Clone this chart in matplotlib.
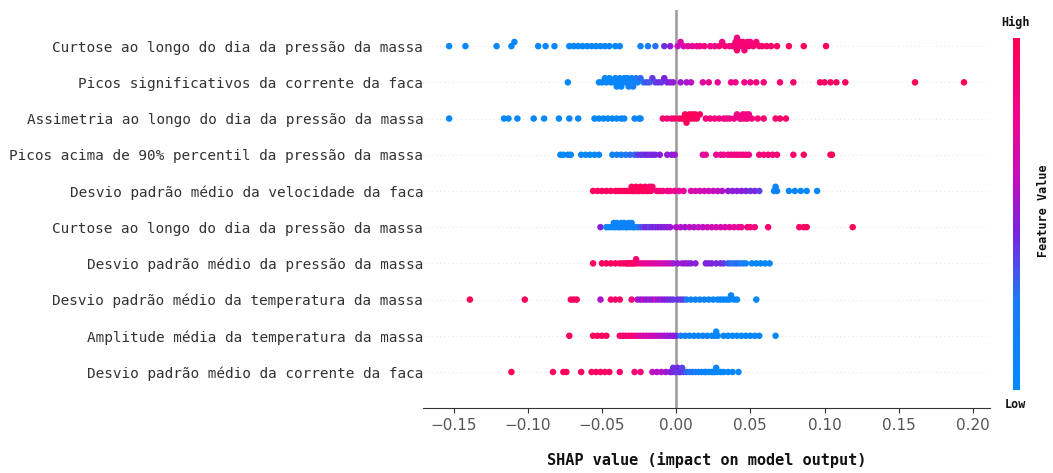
import matplotlib
matplotlib.use("Agg")
import matplotlib.pyplot as plt
import numpy as np
from matplotlib.colors import LinearSegmentedColormap

# feature names, top to bottom
features = [
    "Curtose ao longo do dia da pressão da massa",
    "Picos significativos da corrente da faca",
    "Assimetria ao longo do dia da pressão da massa",
    "Picos acima de 90% percentil da pressão da massa",
    "Desvio padrão médio da velocidade da faca",
    "Curtose ao longo do dia da pressão da massa",
    "Desvio padrão médio da pressão da massa",
    "Desvio padrão médio da temperatura da massa",
    "Amplitude média da temperatura da massa",
    "Desvio padrão médio da corrente da faca",
]

# (shap value, normalised feature value)
row1 = [(-0.153, .05), (-0.142, .05), (-0.121, .06), (-0.111, .05), (-0.109, .07), (-0.093, .05),
        (-0.088, .06), (-0.082, .05), (-0.072, .05), (-0.069, .07), (-0.066, .05), (-0.063, .06),
        (-0.060, .05), (-0.057, .08), (-0.054, .05), (-0.051, .06), (-0.048, .05), (-0.045, .07),
        (-0.041, .06), (-0.038, .08), (-0.024, .15), (-0.019, .20), (-0.014, .28), (-0.008, .42),
        (-0.004, .48), (0.001, .62), (0.003, .70), (0.005, .66), (0.008, .75), (0.011, .72),
        (0.014, .80), (0.016, .78), (0.019, .85), (0.023, .82), (0.026, .80), (0.029, .86),
        (0.031, .83), (0.033, .88), (0.036, .85), (0.038, .80), (0.039, .87), (0.040, .84),
        (0.041, .90), (0.041, .82), (0.042, .86), (0.043, .88), (0.044, .83), (0.045, .90),
        (0.046, .85), (0.047, .88), (0.048, .86), (0.049, .90), (0.050, .84), (0.052, .88),
        (0.054, .86), (0.056, .90), (0.058, .88), (0.061, .92), (0.064, .90), (0.068, .93),
        (0.076, .95), (0.086, .96), (0.101, .98)]

row2 = [(-0.073, .06), (-0.052, .05), (-0.050, .06), (-0.048, .05), (-0.047, .08), (-0.045, .05),
        (-0.044, .07), (-0.042, .05), (-0.041, .10), (-0.040, .06), (-0.039, .05), (-0.038, .12),
        (-0.037, .06), (-0.036, .08), (-0.035, .05), (-0.034, .14), (-0.033, .07), (-0.032, .10),
        (-0.031, .18), (-0.030, .08), (-0.029, .22), (-0.028, .12), (-0.027, .25), (-0.026, .18),
        (-0.024, .30), (-0.022, .26), (-0.020, .35), (-0.018, .32), (-0.016, .40), (-0.014, .38),
        (-0.012, .42), (-0.010, .40), (-0.008, .45), (-0.006, .44), (-0.004, .48), (-0.002, .50),
        (0.003, .52), (0.007, .55), (0.010, .58), (0.018, .72), (0.022, .75), (0.028, .74),
        (0.037, .80), (0.040, .78), (0.046, .82), (0.050, .80), (0.054, .84), (0.059, .85),
        (0.070, .88), (0.079, .90), (0.097, .92), (0.100, .95), (0.104, .93), (0.108, .96),
        (0.114, .95), (0.161, .98), (0.194, .99)]

row3 = [(-0.153, .05), (-0.116, .05), (-0.113, .06), (-0.107, .05), (-0.096, .06), (-0.089, .05),
        (-0.079, .05), (-0.072, .07), (-0.066, .05), (-0.055, .06), (-0.052, .05), (-0.049, .07),
        (-0.046, .05), (-0.043, .08), (-0.040, .06), (-0.037, .10), (-0.035, .07), (-0.028, .12),
        (-0.025, .10), (-0.024, .14), (-0.009, .88), (-0.006, .90), (-0.003, .86), (-0.001, .92),
        (0.002, .95), (0.004, .97), (0.005, .94), (0.006, .98), (0.007, .96), (0.008, .99),
        (0.009, .95), (0.010, .97), (0.011, .98), (0.012, .94), (0.013, .96), (0.014, .93),
        (0.016, .95), (0.020, .85), (0.023, .88), (0.026, .84), (0.029, .86), (0.032, .82),
        (0.034, .85), (0.036, .80), (0.039, .83), (0.041, .80), (0.043, .86), (0.044, .78),
        (0.045, .84), (0.046, .80), (0.047, .82), (0.048, .86), (0.049, .80), (0.051, .84),
        (0.055, .86), (0.059, .88), (0.067, .90), (0.070, .92), (0.074, .90)]

row4 = [(-0.078, .06), (-0.076, .05), (-0.073, .08), (-0.071, .05), (-0.064, .06), (-0.061, .05),
        (-0.058, .07), (-0.055, .05), (-0.052, .10), (-0.043, .15), (-0.040, .20), (-0.037, .18),
        (-0.034, .25), (-0.031, .30), (-0.028, .28), (-0.026, .38), (-0.024, .42), (-0.022, .40),
        (-0.020, .45), (-0.018, .42), (-0.016, .46), (-0.014, .44), (-0.011, .48), (-0.006, .50),
        (-0.003, .48), (-0.001, .52), (0.018, .72), (0.020, .75), (0.027, .78), (0.030, .76),
        (0.032, .80), (0.035, .78), (0.037, .82), (0.039, .80), (0.041, .84), (0.043, .80),
        (0.045, .82), (0.047, .85), (0.049, .83), (0.056, .86), (0.059, .84), (0.062, .88),
        (0.065, .86), (0.068, .88), (0.079, .92), (0.086, .93), (0.104, .96), (0.105, .97)]

row5 = [(-0.056, .95), (-0.053, .96), (-0.050, .94), (-0.047, .97), (-0.044, .95), (-0.041, .98),
        (-0.039, .95), (-0.037, .97), (-0.035, .96), (-0.033, .98), (-0.031, .95), (-0.030, .97),
        (-0.029, .99), (-0.028, .96), (-0.027, .98), (-0.026, .95), (-0.025, .97), (-0.024, .96),
        (-0.023, .98), (-0.022, .95), (-0.021, .97), (-0.020, .94), (-0.019, .96), (-0.018, .93),
        (-0.017, .95), (-0.016, .92), (-0.013, .85), (-0.011, .88), (-0.009, .82), (-0.006, .84),
        (-0.004, .80), (-0.001, .76), (0.002, .78), (0.005, .74), (0.010, .70), (0.013, .66),
        (0.016, .68), (0.019, .62), (0.022, .65), (0.025, .60), (0.028, .62), (0.031, .56),
        (0.035, .52), (0.038, .48), (0.041, .50), (0.044, .46), (0.047, .48), (0.050, .42),
        (0.053, .45), (0.056, .38), (0.066, .10), (0.067, .08), (0.068, .12), (0.076, .06),
        (0.080, .08), (0.084, .05), (0.088, .07), (0.095, .05)]

row6 = [(-0.051, .45), (-0.047, .10), (-0.045, .06), (-0.043, .12), (-0.042, .05), (-0.041, .08),
        (-0.040, .15), (-0.039, .06), (-0.038, .10), (-0.037, .05), (-0.036, .18), (-0.035, .08),
        (-0.034, .12), (-0.033, .06), (-0.032, .20), (-0.031, .10), (-0.030, .15), (-0.029, .25),
        (-0.028, .12), (-0.026, .22), (-0.024, .30), (-0.022, .40), (-0.020, .44), (-0.018, .38),
        (-0.016, .46), (-0.014, .42), (-0.012, .48), (-0.010, .44), (-0.008, .50), (-0.006, .46),
        (-0.004, .52), (0.000, .55), (0.003, .58), (0.006, .52), (0.009, .60), (0.012, .56),
        (0.015, .62), (0.018, .58), (0.021, .65), (0.024, .62), (0.027, .68), (0.030, .64),
        (0.033, .72), (0.036, .70), (0.039, .75), (0.042, .72), (0.044, .78), (0.048, .84),
        (0.050, .86), (0.053, .85), (0.062, .90), (0.083, .94), (0.086, .95), (0.088, .96),
        (0.119, .98)]

row7 = [(-0.056, .95), (-0.050, .96), (-0.047, .94), (-0.044, .97), (-0.041, .95), (-0.038, .96),
        (-0.036, .92), (-0.034, .95), (-0.033, .90), (-0.032, .94), (-0.031, .92), (-0.030, .96),
        (-0.029, .90), (-0.028, .93), (-0.027, .88), (-0.026, .91), (-0.024, .80), (-0.022, .76),
        (-0.020, .78), (-0.018, .72), (-0.016, .74), (-0.014, .68), (-0.012, .70), (-0.010, .64),
        (-0.008, .66), (-0.006, .60), (-0.004, .62), (-0.002, .52), (0.001, .50), (0.004, .54),
        (0.006, .48), (0.008, .52), (0.010, .46), (0.013, .50), (0.020, .46), (0.022, .44),
        (0.024, .48), (0.027, .42), (0.030, .45), (0.032, .40), (0.035, .32), (0.037, .28),
        (0.039, .25), (0.041, .30), (0.043, .20), (0.045, .22), (0.047, .15), (0.051, .06),
        (0.054, .05), (0.057, .08), (0.060, .05), (0.063, .06)]

row8 = [(-0.139, .98), (-0.102, .97), (-0.071, .95), (-0.069, .96), (-0.067, .94), (-0.051, .55),
        (-0.044, .92), (-0.041, .90), (-0.038, .93), (-0.030, .85), (-0.026, .55), (-0.024, .50),
        (-0.022, .58), (-0.020, .48), (-0.018, .55), (-0.016, .46), (-0.014, .60), (-0.012, .50),
        (-0.010, .52), (-0.008, .45), (-0.006, .48), (-0.004, .42), (-0.002, .40), (0.001, .44),
        (0.003, .38), (0.005, .40), (0.007, .25), (0.010, .15), (0.013, .20), (0.016, .10),
        (0.019, .18), (0.022, .08), (0.025, .15), (0.028, .06), (0.030, .12), (0.032, .05),
        (0.034, .10), (0.036, .06), (0.037, .08), (0.039, .05), (0.041, .07), (0.054, .05)]

row9 = [(-0.072, .96), (-0.056, .95), (-0.053, .97), (-0.050, .94), (-0.047, .96), (-0.038, .90),
        (-0.036, .86), (-0.034, .92), (-0.032, .85), (-0.030, .88), (-0.028, .84), (-0.026, .75),
        (-0.024, .70), (-0.022, .72), (-0.020, .65), (-0.018, .68), (-0.016, .60), (-0.014, .64),
        (-0.012, .56), (-0.010, .60), (-0.008, .52), (-0.006, .55), (-0.004, .50), (-0.002, .48),
        (0.000, .46), (0.003, .20), (0.006, .15), (0.009, .12), (0.012, .10), (0.015, .14),
        (0.018, .08), (0.021, .12), (0.024, .06), (0.026, .10), (0.027, .05), (0.028, .08),
        (0.032, .06), (0.035, .05), (0.038, .07), (0.041, .05), (0.044, .06), (0.047, .05),
        (0.050, .08), (0.053, .05), (0.056, .06), (0.067, .05)]

row10 = [(-0.111, .98), (-0.083, .96), (-0.076, .95), (-0.074, .97), (-0.064, .94), (-0.057, .96),
         (-0.054, .93), (-0.051, .95), (-0.048, .92), (-0.045, .94), (-0.038, .90), (-0.028, .88),
         (-0.024, .85), (-0.016, .60), (-0.013, .55), (-0.010, .58), (-0.007, .52), (-0.004, .50),
         (-0.003, .45), (-0.002, .42), (-0.001, .48), (0.000, .40), (0.001, .44), (0.002, .38),
         (0.003, .42), (0.004, .36), (0.005, .40), (0.007, .30), (0.009, .25), (0.011, .28),
         (0.013, .22), (0.015, .20), (0.017, .18), (0.019, .15), (0.020, .10), (0.022, .08),
         (0.024, .12), (0.025, .06), (0.026, .10), (0.027, .05), (0.028, .08), (0.030, .06),
         (0.032, .05), (0.035, .07), (0.038, .05), (0.042, .06)]

rows = [row1, row2, row3, row4, row5, row6, row7, row8, row9, row10]

cmap = LinearSegmentedColormap.from_list(
    "shap_rb", [(0.0, "#008bfb"), (0.25, "#1a7cf5"), (0.45, "#7b22e0"),
                (0.6, "#c30fc0"), (0.78, "#f0058f"), (1.0, "#ff0052")])


def swarm(vals, nbins=100, step=0.115):
    # stack points that fall in the same bin, alternating up/down
    vals = np.asarray(vals)
    quant = np.round(nbins * (vals - vals.min()) / (vals.max() - vals.min() + 1e-8))
    inds = np.argsort(quant, kind="stable")
    ys = np.zeros(len(vals))
    layer = 0
    last = -1
    for i in inds:
        if quant[i] != last:
            layer = 0
        ys[i] = np.ceil(layer / 2) * ((layer % 2) * 2 - 1)
        layer += 1
        last = quant[i]
    return ys * step


fig = plt.figure(figsize=(10.53, 4.73), dpi=100)
ax = fig.add_axes([0.402, 0.137, 0.538, 0.842])

n = len(rows)
for i, r in enumerate(rows):
    vals = np.array([p[0] for p in r])
    fv = np.array([p[1] for p in r])
    pos = n - 1 - i
    ax.axhline(pos, color="#cccccc", lw=0.5, dashes=(1, 5), zorder=-1)
    ax.scatter(vals, pos + swarm(vals), c=fv, cmap=cmap, vmin=0, vmax=1,
               s=22, linewidth=0, zorder=3)

ax.axvline(0, color="#999999", lw=1.8, zorder=-1)

ax.set_xlim(-0.1704, 0.2114)
ax.set_ylim(-1, n)
ax.set_xticks([-0.15, -0.10, -0.05, 0.00, 0.05, 0.10, 0.15, 0.20])
ax.set_xticklabels(["−0.15", "−0.10", "−0.05", "0.00", "0.05", "0.10", "0.15", "0.20"])
ax.set_yticks(range(n))
ax.set_yticklabels(features[::-1], family="DejaVu Sans Mono", fontsize=10.4, color="#333333")
ax.tick_params(axis="y", length=0, pad=0)
ax.tick_params(axis="x", labelsize=11, labelcolor="#555555", color="#333333")
for s in ["top", "right", "left"]:
    ax.spines[s].set_visible(False)
ax.spines["bottom"].set_color("#333333")
ax.set_xlabel("SHAP value (impact on model output)", family="DejaVu Sans Mono",
              fontweight="bold", fontsize=11, labelpad=14, color="#111111")

# colorbar
cax = fig.add_axes([0.962, 0.175, 0.0066, 0.744])
grad = np.linspace(0, 1, 256).reshape(-1, 1)
cax.imshow(grad, cmap=cmap, aspect="auto", origin="lower")
cax.set_axis_off()
fig.text(0.9647, 0.953, "High", family="DejaVu Sans Mono", fontweight="bold",
         fontsize=8.5, ha="center", va="center", color="#111111")
fig.text(0.9647, 0.144, "Low", family="DejaVu Sans Mono", fontweight="bold",
         fontsize=8.5, ha="center", va="center", color="#111111")
fig.text(0.991, 0.555, "Feature Value", family="DejaVu Sans Mono", fontweight="bold",
         fontsize=8.5, ha="center", va="center", rotation=90, color="#111111")

fig.savefig("out.png", dpi=100)
